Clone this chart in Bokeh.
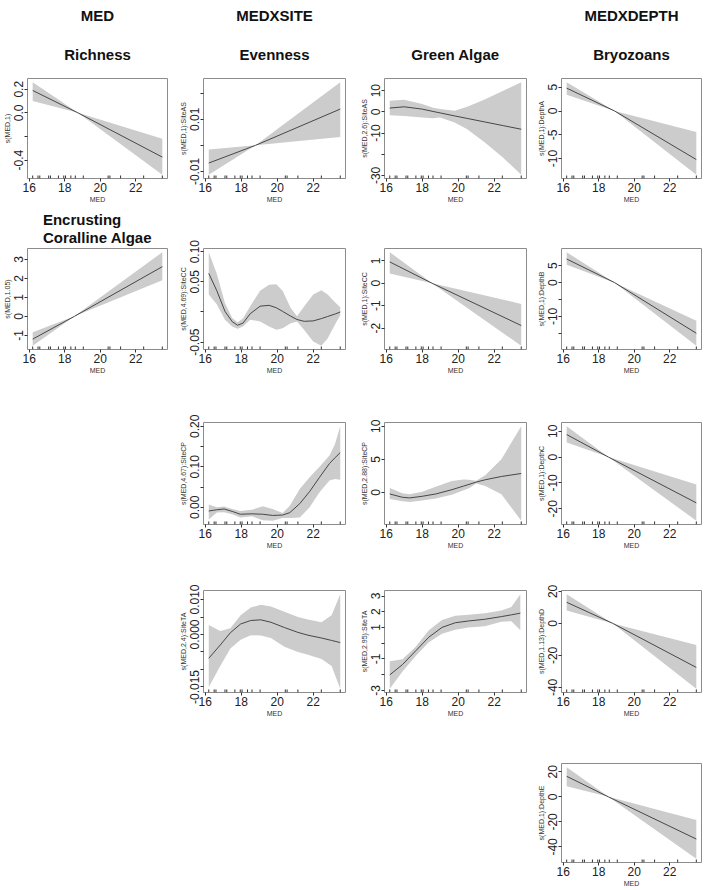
from bokeh.plotting import figure
from bokeh.models import Range1d, Title, FixedTicker, Spacer
from bokeh.layouts import row, column
from bokeh.embed import file_html
from bokeh.resources import INLINE

FONT = "Liberation Sans"

# observed MED values (rug marks)
MED_RUG = [16.2, 16.5, 16.6, 17.1, 17.2, 17.65, 17.95, 18.05, 18.35, 18.6,
           19.05, 20.45, 20.55, 21.15, 22.45, 23.5]
X_TICKS = [16, 18, 20, 22]

# ---- MED : Richness  s(MED,1)
RICH_X = [16.2, 18.75, 23.5]
RICH_FIT = [0.19, 0.0, -0.375]
RICH_LO = [0.10, 0.0, -0.525]
RICH_HI = [0.26, 0.0, -0.22]
RICH_YTICKS = [-0.4, -0.2, 0.0, 0.2]
RICH_YLABELS = ["-0.4", "", "0.0", "0.2"]

# ---- MED : Encrusting Coralline Algae  s(MED,1.05)
ECA_X = [16.2, 18.55, 23.5]
ECA_FIT = [-1.2, 0.0, 2.62]
ECA_LO = [-1.55, 0.0, 1.9]
ECA_HI = [-0.84, 0.0, 3.38]
ECA_YTICKS = [-1, 0, 1, 2, 3]
ECA_YLABELS = ["-1", "0", "1", "2", "3"]

# ---- MEDXSITE : Evenness
EV_AS_X = [16.2, 18.8, 23.5]
EV_AS_FIT = [-0.0068, 0.0, 0.0139]
EV_AS_LO = [-0.0113, 0.0, 0.0032]
EV_AS_HI = [-0.0016, 0.0, 0.0242]
EV_AS_YTICKS = [-0.01, 0.0, 0.01, 0.02]
EV_AS_YLABELS = ["-0.01", "", "0.01", ""]

EV_CC_X = [16.2, 16.65, 17.1, 17.5, 17.8, 18.1, 18.5, 19.05, 19.55, 19.95,
           20.3, 20.75, 21.1, 21.5, 22.0, 22.45, 22.8, 23.25, 23.5]
EV_CC_FIT = [0.064, 0.035, 0.001, -0.016, -0.022, -0.0185, -0.003, 0.0096, 0.011, 0.007,
             0.001, -0.007, -0.0125, -0.0155, -0.0148, -0.011, -0.0075, -0.003, 0.0]
EV_CC_LO = [0.029, 0.0125, -0.0128, -0.024, -0.028, -0.024, -0.0128, -0.0157, -0.024, -0.0295,
            -0.027, -0.0185, -0.0157, -0.0297, -0.049, -0.056, -0.044, -0.0185, -0.0056]
EV_CC_HI = [0.099, 0.063, 0.015, -0.010, -0.017, -0.011, 0.0096, 0.035, 0.045, 0.046,
            0.035, 0.0067, -0.0072, 0.0096, 0.029, 0.036, 0.029, 0.015, 0.008]
EV_CC_YTICKS = [-0.05, 0.0, 0.05, 0.10]
EV_CC_YLABELS = ["-0.05", "", "0.05", "0.10"]

EV_CP_X = [16.2, 16.65, 17.05, 17.5, 17.95, 18.6, 19.2, 19.75, 20.3, 20.7,
           21.25, 21.8, 22.35, 22.9, 23.2, 23.5]
EV_CP_FIT = [-0.009, -0.006, -0.004, -0.010, -0.017, -0.016, -0.017, -0.020, -0.019, -0.013,
             0.009, 0.039, 0.074, 0.108, 0.122, 0.135]
EV_CP_LO = [-0.030, -0.013, -0.012, -0.017, -0.025, -0.022, -0.032, -0.033, -0.026, -0.026,
            -0.025, 0.0, 0.037, 0.066, 0.070, 0.068]
EV_CP_HI = [0.007, 0.0, 0.002, -0.004, -0.009, -0.006, 0.003, -0.004, -0.014, 0.004,
            0.045, 0.074, 0.100, 0.128, 0.155, 0.200]
EV_CP_YTICKS = [0.0, 0.05, 0.10, 0.15, 0.20]
EV_CP_YLABELS = ["0.00", "", "0.10", "", "0.20"]

EV_TA_X = [16.2, 16.84, 17.4, 17.97, 18.53, 19.09, 19.65, 20.4, 21.15, 21.71, 22.46, 23.02, 23.5]
EV_TA_FIT = [-0.0068, -0.003, 0.0005, 0.003, 0.004, 0.0042, 0.0035, 0.002, 0.0006, -0.0002,
             -0.001, -0.0017, -0.0023]
EV_TA_LO = [-0.015, -0.009, -0.004, -0.0015, -0.0002, -0.0003, -0.001, -0.0035, -0.005, -0.0058,
            -0.007, -0.009, -0.0155]
EV_TA_HI = [0.0027, 0.001, 0.0018, 0.0055, 0.0077, 0.0085, 0.008, 0.0065, 0.005, 0.0043,
            0.0035, 0.0055, 0.0115]
EV_TA_YTICKS = [-0.015, -0.010, -0.005, 0.0, 0.005, 0.010]
EV_TA_YLABELS = ["-0.015", "", "", "0.000", "", "0.010"]

# ---- MEDXSITE : Green Algae
GA_AS_X = [16.2, 17.0, 18.0, 18.6, 19.0, 19.8, 20.5, 21.5, 22.5, 23.5]
GA_AS_FIT = [1.8, 2.4, 1.3, 0.2, -0.5, -1.9, -3.1, -4.8, -6.5, -8.2]
GA_AS_LO = [-1.6, -1.9, -2.7, -3.0, -2.7, -5.0, -8.2, -14.6, -21.7, -29.7]
GA_AS_HI = [5.2, 5.7, 3.7, 2.0, 1.3, 0.5, 2.4, 6.0, 10.0, 14.0]
GA_AS_YTICKS = [-30, -20, -10, 0, 10]
GA_AS_YLABELS = ["-30", "", "-10", "0", "10"]

GA_CC_X = [16.2, 18.55, 23.5]
GA_CC_FIT = [0.95, 0.0, -1.88]
GA_CC_LO = [0.43, 0.0, -2.78]
GA_CC_HI = [1.38, 0.0, -0.92]
GA_CC_YTICKS = [-2, -1, 0, 1]
GA_CC_YLABELS = ["-2", "-1", "0", "1"]

GA_CP_X = [16.2, 16.9, 17.3, 18.0, 18.75, 19.65, 20.3, 20.6, 21.0, 21.5, 22.4, 23.5]
GA_CP_FIT = [-0.25, -0.75, -0.85, -0.6, -0.25, 0.4, 0.95, 1.2, 1.55, 1.9, 2.4, 2.85]
GA_CP_LO = [-1.0, -1.35, -1.45, -1.25, -0.95, -0.35, 0.3, 0.6, 1.35, 0.95, -0.3, -4.3]
GA_CP_HI = [0.65, -0.15, -0.3, 0.1, 0.85, 1.7, 1.95, 1.9, 1.75, 2.6, 5.0, 10.0]
GA_CP_YTICKS = [0, 5, 10]
GA_CP_YLABELS = ["0", "5", "10"]

GA_TA_X = [16.2, 16.91, 17.64, 18.37, 19.1, 19.84, 20.57, 21.48, 22.4, 22.95, 23.45]
GA_TA_FIT = [-2.02, -1.36, -0.49, 0.38, 1.0, 1.3, 1.41, 1.52, 1.69, 1.8, 1.91]
GA_TA_LO = [-2.9, -1.8, -0.82, 0.05, 0.6, 0.86, 1.0, 1.08, 1.36, 1.4, 0.82]
GA_TA_HI = [-1.15, -1.03, -0.23, 0.82, 1.47, 1.74, 1.8, 1.91, 2.08, 2.3, 3.11]
GA_TA_YTICKS = [-3, -2, -1, 0, 1, 2, 3]
GA_TA_YLABELS = ["-3", "", "-1", "", "1", "2", "3"]

# ---- MEDXDEPTH : Bryozoans
BR_A_X = [16.2, 18.9, 23.5]
BR_A_FIT = [4.8, 0.0, -10.2]
BR_A_LO = [3.4, 0.0, -13.4]
BR_A_HI = [6.05, 0.0, -4.4]
BR_A_YTICKS = [-10, -5, 0, 5]
BR_A_YLABELS = ["-10", "-5", "0", "5"]

BR_B_X = [16.2, 18.9, 23.5]
BR_B_FIT = [7.0, 0.0, -15.0]
BR_B_LO = [5.3, 0.0, -18.7]
BR_B_HI = [9.0, 0.0, -11.3]
BR_B_YTICKS = [-20, -15, -10, -5, 0, 5]
BR_B_YLABELS = ["-20", "", "-10", "", "0", "5"]

BR_C_X = [16.2, 18.55, 23.5]
BR_C_FIT = [8.7, 0.0, -17.7]
BR_C_LO = [5.6, 0.0, -24.6]
BR_C_HI = [11.9, 0.0, -10.6]
BR_C_YTICKS = [-20, -10, 0, 10]
BR_C_YLABELS = ["-20", "-10", "0", "10"]

BR_D_X = [16.2, 18.8, 23.5]
BR_D_FIT = [13.2, 0.0, -27.5]
BR_D_LO = [8.1, 0.0, -40.8]
BR_D_HI = [18.2, 0.0, -13.5]
BR_D_YTICKS = [-40, -20, 0, 20]
BR_D_YLABELS = ["-40", "-20", "0", "20"]

BR_E_X = [16.2, 18.55, 23.5]
BR_E_FIT = [16.4, 0.0, -33.7]
BR_E_LO = [8.5, 0.0, -49.5]
BR_E_HI = [23.7, 0.0, -18.4]
BR_E_YTICKS = [-40, -20, 0, 20]
BR_E_YLABELS = ["-40", "-20", "0", "20"]

# ---- layout: (border left, frame width, border right) / (border top, frame height, border bottom)
COLS = [(26, 141, 6), (30, 142, 9), (30, 142, 5), (30, 140, 6)]
ROWS = [(78, 102, 25), (43, 102, 26), (46, 102, 28), (38, 102, 28), (43, 101, 25)]

BAND = "#cccccc"
LINE = "#474747"
BOX = "#8c8c8c"
TICK = "#333333"


def style_title(t):
    t.align = "center"
    t.text_font = FONT
    t.text_font_size = "15px"
    t.text_font_style = "bold"
    t.text_color = "#111111"


def make_panel(r, c, x, fit, lo, hi, yticks, ylabels, ylab, title=None, header=None,
               title_standoff=32, title_line_height=1.2):
    bl, fw, br = COLS[c]
    bt, fh, bb = ROWS[r]
    xmin, xmax = min(MED_RUG), max(MED_RUG)
    xs = xmax - xmin
    ymin, ymax = min(lo + fit), max(hi + fit)
    ys = ymax - ymin
    xr = Range1d(xmin - 0.04 * xs, xmax + 0.04 * xs)
    yr = Range1d(ymin - 0.04 * ys, ymax + 0.04 * ys)
    p = figure(width=bl + fw + br, height=bt + fh + bb, x_range=xr, y_range=yr,
               output_backend="svg", toolbar_location=None, title=header,
               min_border_left=bl, min_border_right=br,
               min_border_top=bt, min_border_bottom=bb)
    p.xgrid.visible = False
    p.ygrid.visible = False
    p.outline_line_color = BOX
    p.outline_line_width = 1

    p.varea(x=x, y1=lo, y2=hi, fill_color=BAND, fill_alpha=1.0)
    p.line(x=x, y=fit, line_color=LINE, line_width=1)

    y0 = yr.start
    y1 = yr.start + 0.03 * (yr.end - yr.start)
    p.segment(x0=MED_RUG, y0=[y0] * len(MED_RUG), x1=MED_RUG, y1=[y1] * len(MED_RUG),
              line_color=TICK, line_width=1)

    major = [t for t, l in zip(yticks, ylabels) if l != ""]
    minor = [t for t, l in zip(yticks, ylabels) if l == ""]
    p.yaxis.ticker = FixedTicker(ticks=major, minor_ticks=minor)
    p.yaxis.major_label_overrides = {t: l for t, l in zip(yticks, ylabels) if l != ""}
    p.xaxis.ticker = FixedTicker(ticks=X_TICKS)
    p.xaxis.major_label_overrides = {t: str(t) for t in X_TICKS}

    for ax in (p.xaxis[0], p.yaxis[0]):
        ax.axis_line_color = None
        ax.major_tick_line_color = TICK
        ax.minor_tick_line_color = TICK
        ax.major_tick_out = 3
        ax.major_tick_in = 0
        ax.minor_tick_out = 3
        ax.minor_tick_in = 0
        ax.major_label_text_font = FONT
        ax.major_label_text_font_size = "12px"
        ax.major_label_text_color = "#222222"
        ax.major_label_standoff = 1
        ax.axis_label_text_font = FONT
        ax.axis_label_text_font_size = "7px"
        ax.axis_label_text_font_style = "normal"
        ax.axis_label_text_color = "#333333"
        ax.axis_label_standoff = 1
    p.xaxis.minor_tick_line_color = None
    p.yaxis.major_label_orientation = "vertical"
    p.xaxis.axis_label = "MED"
    p.yaxis.axis_label = ylab

    if header:
        style_title(p.title)
        p.title.vertical_align = "top"
        p.title.standoff = 4
    if title:
        t = Title(text=title)
        style_title(t)
        t.vertical_align = "bottom"
        t.standoff = title_standoff
        t.text_line_height = title_line_height
        p.add_layout(t, "above")
    return p


def blank(r, c):
    bl, fw, br = COLS[c]
    bt, fh, bb = ROWS[r]
    return Spacer(width=bl + fw + br, height=bt + fh + bb)


rows = [
    row(
        make_panel(0, 0, RICH_X, RICH_FIT, RICH_LO, RICH_HI, RICH_YTICKS, RICH_YLABELS,
                   "s(MED,1)", title="Richness", header="MED"),
        make_panel(0, 1, EV_AS_X, EV_AS_FIT, EV_AS_LO, EV_AS_HI, EV_AS_YTICKS, EV_AS_YLABELS,
                   "s(MED,1):SiteAS", title="Evenness", header="MEDXSITE"),
        make_panel(0, 2, GA_AS_X, GA_AS_FIT, GA_AS_LO, GA_AS_HI, GA_AS_YTICKS, GA_AS_YLABELS,
                   "s(MED,2.6):SiteAS", title="Green Algae"),
        make_panel(0, 3, BR_A_X, BR_A_FIT, BR_A_LO, BR_A_HI, BR_A_YTICKS, BR_A_YLABELS,
                   "s(MED,1):DepthA", title="Bryozoans", header="MEDXDEPTH"),
    ),
    row(
        make_panel(1, 0, ECA_X, ECA_FIT, ECA_LO, ECA_HI, ECA_YTICKS, ECA_YLABELS,
                   "s(MED,1.05)", title="Encrusting\nCoralline Algae", title_standoff=4,
                   title_line_height=1.1),
        make_panel(1, 1, EV_CC_X, EV_CC_FIT, EV_CC_LO, EV_CC_HI, EV_CC_YTICKS, EV_CC_YLABELS,
                   "s(MED,4.69):SiteCC"),
        make_panel(1, 2, GA_CC_X, GA_CC_FIT, GA_CC_LO, GA_CC_HI, GA_CC_YTICKS, GA_CC_YLABELS,
                   "s(MED,1):SiteCC"),
        make_panel(1, 3, BR_B_X, BR_B_FIT, BR_B_LO, BR_B_HI, BR_B_YTICKS, BR_B_YLABELS,
                   "s(MED,1):DepthB"),
    ),
    row(
        blank(2, 0),
        make_panel(2, 1, EV_CP_X, EV_CP_FIT, EV_CP_LO, EV_CP_HI, EV_CP_YTICKS, EV_CP_YLABELS,
                   "s(MED,4.67):SiteCP"),
        make_panel(2, 2, GA_CP_X, GA_CP_FIT, GA_CP_LO, GA_CP_HI, GA_CP_YTICKS, GA_CP_YLABELS,
                   "s(MED,2.88):SiteCP"),
        make_panel(2, 3, BR_C_X, BR_C_FIT, BR_C_LO, BR_C_HI, BR_C_YTICKS, BR_C_YLABELS,
                   "s(MED,1):DepthC"),
    ),
    row(
        blank(3, 0),
        make_panel(3, 1, EV_TA_X, EV_TA_FIT, EV_TA_LO, EV_TA_HI, EV_TA_YTICKS, EV_TA_YLABELS,
                   "s(MED,2.4):SiteTA"),
        make_panel(3, 2, GA_TA_X, GA_TA_FIT, GA_TA_LO, GA_TA_HI, GA_TA_YTICKS, GA_TA_YLABELS,
                   "s(MED,2.95):SiteTA"),
        make_panel(3, 3, BR_D_X, BR_D_FIT, BR_D_LO, BR_D_HI, BR_D_YTICKS, BR_D_YLABELS,
                   "s(MED,1.13):DepthD"),
    ),
    row(
        blank(4, 0),
        blank(4, 1),
        blank(4, 2),
        make_panel(4, 3, BR_E_X, BR_E_FIT, BR_E_LO, BR_E_HI, BR_E_YTICKS, BR_E_YLABELS,
                   "s(MED,1):DepthE"),
    ),
]

layout = column(*rows)
open("out.html", "w").write(file_html(layout, INLINE))
